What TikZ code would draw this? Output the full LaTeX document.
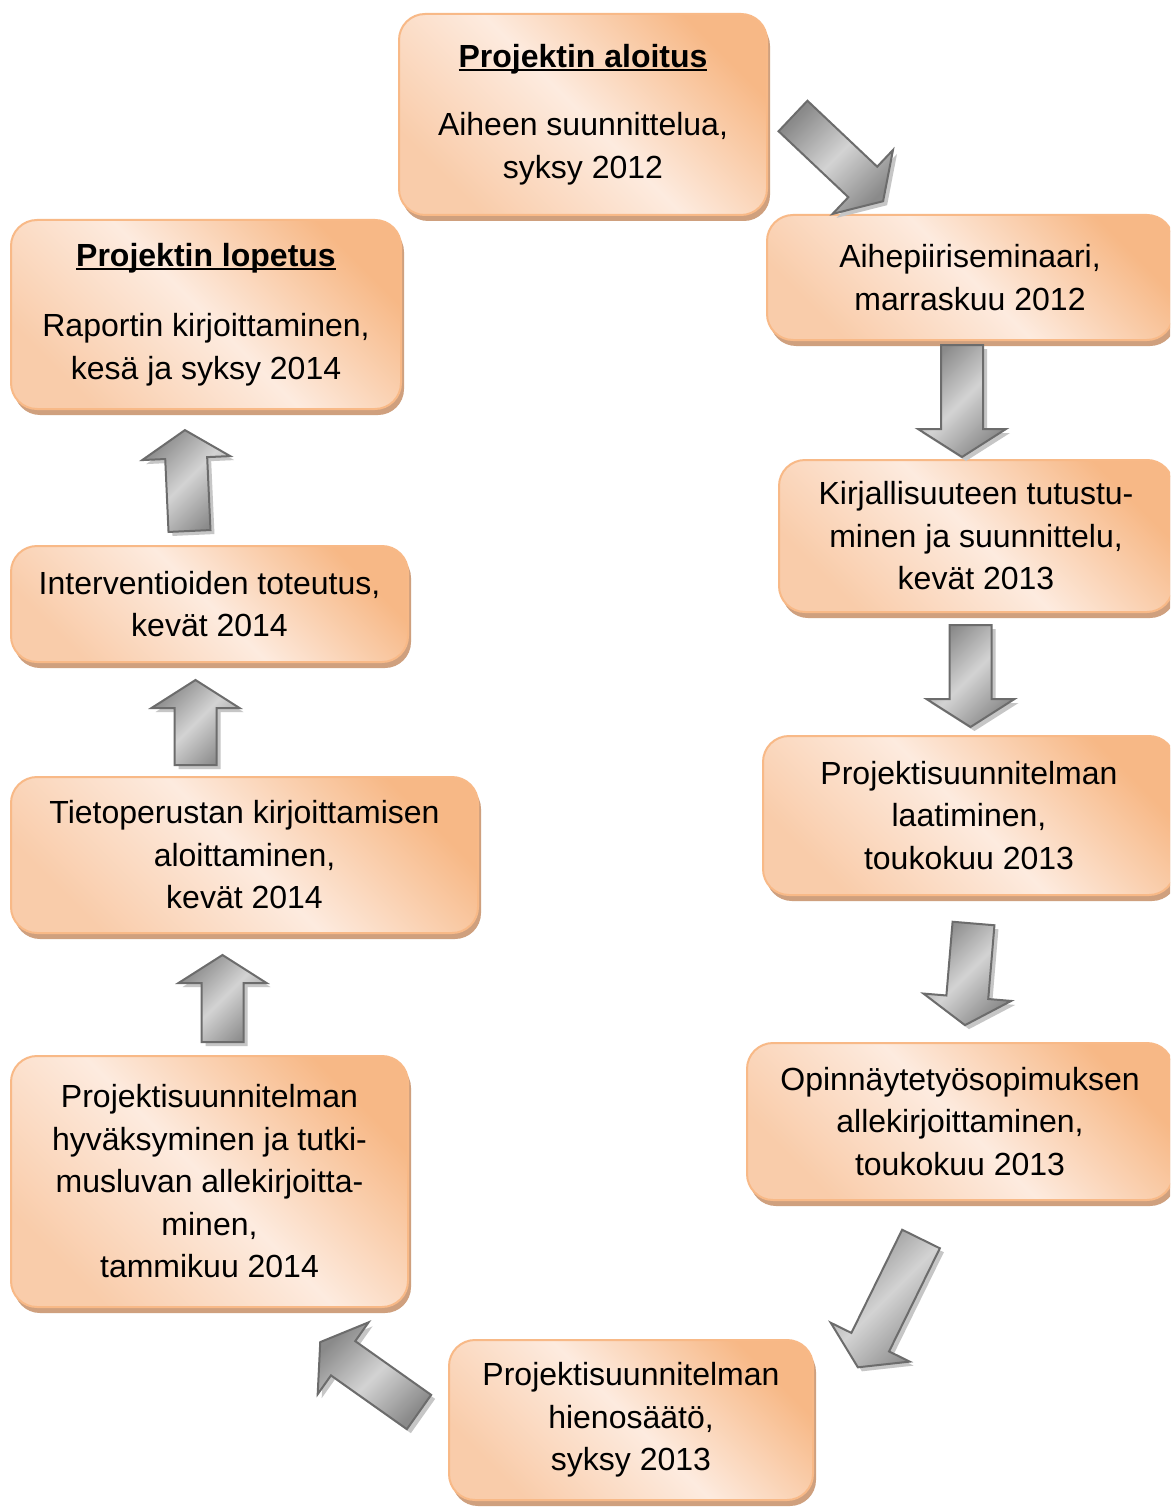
\documentclass[tikz,border=0pt]{standalone}
\usepackage{fontspec}
\setmainfont{Liberation Sans}
\usetikzlibrary{shadows}
\definecolor{boxtr}{HTML}{F7B886}
\definecolor{boxmid}{HTML}{FDEBDF}
\definecolor{boxbl}{HTML}{F9CCAA}
\definecolor{boxline}{HTML}{F8B987}
\definecolor{boxshadow}{HTML}{CFA07E}
\definecolor{arrdark}{HTML}{8A8A8A}
\definecolor{arrlight}{HTML}{D3D3D3}
\definecolor{arrline}{HTML}{6C6C6C}
\definecolor{arrshadow}{HTML}{C6C6C6}
\newcommand\myul[1]{\setbox0\hbox{#1}\rlap{\rule[-3.5pt]{\wd0}{2.2pt}}\box0}
\tikzset{
  stagebox/.style={draw=boxline, line width=2pt, rounded corners=26pt,
    left color=boxtr, right color=boxbl, middle color=boxmid, shading angle=-45,
    align=center, inner sep=0pt, font=\fontsize{32}{42.5}\selectfont,
    general shadow={fill=boxshadow, shadow xshift=3pt, shadow yshift=-6pt}},
  blockarr/.style={draw=arrline, line width=2pt, line join=miter,
    left color=arrdark, right color=arrdark, middle color=arrlight, shading angle=45},
  blockshadow/.style={fill=arrshadow}
}
\newcommand\blockarrow[4]{%
  \begin{scope}[shift={(#1+4,#2+4)}, rotate=#3]
    \path[blockshadow] (0,-21) -- ({#4-28},-21) -- ({#4-28},-44) -- (#4,0) -- ({#4-28},44) -- ({#4-28},21) -- (0,21) -- cycle;
  \end{scope}
  \begin{scope}[shift={(#1,#2)}, rotate=#3]
    \path[blockarr] (0,-21) -- ({#4-28},-21) -- ({#4-28},-44) -- (#4,0) -- ({#4-28},44) -- ({#4-28},21) -- (0,21) -- cycle;
  \end{scope}}
\begin{document}
\begin{tikzpicture}[x=1pt,y=-1pt]
\useasboundingbox (0,0) rectangle (1170,1511);
\fill[white] (0,0) rectangle (1170,1511);
\clip (0,0) rectangle (1170,1511);

% stages
\node[stagebox, minimum width=368pt, minimum height=201pt] (b1) at (583,114.5)
  {\textbf{\myul{Projektin aloitus}}\\[26pt] Aiheen suunnittelua,\\ syksy 2012};
\node[stagebox, minimum width=406pt, minimum height=125pt] (b2) at (970,277.5)
  {Aihepiiriseminaari,\\ marraskuu 2012};
\node[stagebox, minimum width=394pt, minimum height=152pt] (b3) at (976,536)
  {Kirjallisuuteen tutustu-\\ minen ja suunnittelu,\\ kevät 2013};
\node[stagebox, minimum width=412pt, minimum height=159pt] (b4) at (969,815.5)
  {Projektisuunnitelman\\ laatiminen,\\ toukokuu 2013};
\node[stagebox, minimum width=426pt, minimum height=157pt] (b5) at (960,1121.5)
  {Opinnäytetyösopimuksen\\ allekirjoittaminen,\\ toukokuu 2013};
\node[stagebox, minimum width=364pt, minimum height=160pt] (b6) at (631,1420)
  {Projektisuunnitelman\\ hienosäätö,\\ syksy 2013};
\node[stagebox, minimum width=397pt, minimum height=251pt] (b7) at (209.5,1181.5)
  {Projektisuunnitelman\\ hyväksyminen ja tutki-\\ musluvan allekirjoitta-\\ minen,\\ tammikuu 2014};
\node[stagebox, minimum width=467pt, minimum height=156pt] (b8) at (244.5,855)
  {Tietoperustan kirjoittamisen\\ aloittaminen,\\ kevät 2014};
\node[stagebox, minimum width=397pt, minimum height=116pt] (b9) at (209.5,604)
  {Interventioiden toteutus,\\ kevät 2014};
\node[stagebox, minimum width=390pt, minimum height=189pt] (b10) at (206,314.5)
  {\textbf{\myul{Projektin lopetus}}\\[28pt] Raportin kirjoittaminen,\\ kesä ja syksy 2014};

% block arrows: tail x, tail y, angle, length
\blockarrow{793}{116}{-43.4}{124}
\blockarrow{962}{345}{-90}{112}
\blockarrow{970.5}{625}{-90}{102}
\blockarrow{973.5}{923.5}{-94.8}{102}
\blockarrow{921}{1239}{-116.2}{143}
\blockarrow{419}{1412}{144.7}{121}
\blockarrow{222.5}{1042}{90}{87}
\blockarrow{195.5}{765}{90}{85}
\blockarrow{189.5}{531}{92.6}{101}
\end{tikzpicture}
\end{document}
